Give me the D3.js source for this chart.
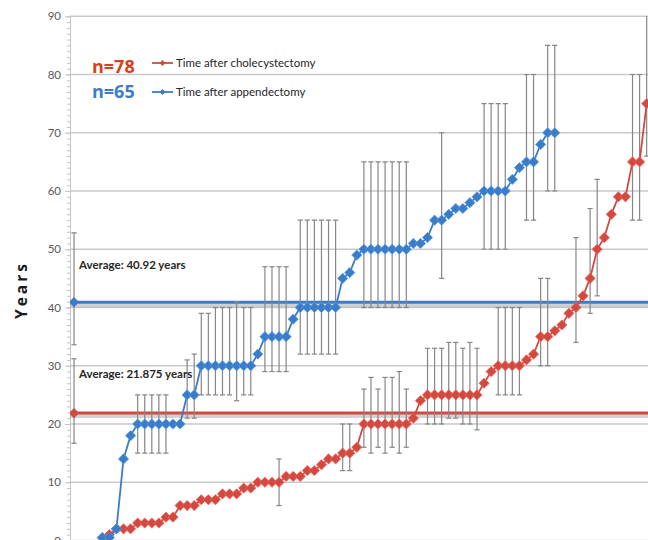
<!DOCTYPE html>
<html><head><meta charset="utf-8">
<script src="https://cdn.jsdelivr.net/npm/d3@7"></script>
<style>body{margin:0;background:#fff}svg{display:block}</style>
</head><body>
<svg id="chart" width="648" height="540"></svg>
<script>
// Category slots along the x axis (1-based); patients are sorted by years
const categories = d3.range(1, 83);
const yTicks = [0, 10, 20, 30, 40, 50, 60, 70, 80, 90];
const firstPatientCategory = 5;
const averageCategory = 1;

// Years after appendectomy, one value per patient (n=65)
const appendectomyYears = [0.5, 0.5, 2, 14, 18,
  20, 20, 20, 20, 20, 20, 20, 25, 25,
  30, 30, 30, 30, 30, 30, 30, 30, 32, 35, 35, 35, 35, 38,
  40, 40, 40, 40, 40, 40, 45, 46, 49,
  50, 50, 50, 50, 50, 50, 50, 51, 51, 52,
  55, 55, 56, 57, 57, 58, 59, 60, 60, 60, 60,
  62, 64, 65, 65, 68, 70, 70];

// Years after cholecystectomy, one value per patient (n=78)
const cholecystectomyYears = [0.5, 1, 2, 2, 2, 3, 3, 3, 3, 4, 4,
  6, 6, 6, 7, 7, 7, 8, 8, 8, 9, 9, 10, 10, 10, 10, 11, 11, 11,
  12, 12, 13, 14, 14, 15, 15, 16,
  20, 20, 20, 20, 20, 20, 20, 21, 24,
  25, 25, 25, 25, 25, 25, 25, 25, 27, 29, 30, 30, 30, 30, 31, 32,
  35, 35, 36, 37, 39, 40, 42, 45, 50, 52, 56, 59, 59, 65, 65, 75];

// Error bars: category, lower end, upper end
const appErrCategory = [10, 11, 12, 13, 14, 17, 18, 19, 20, 21, 22, 23, 24, 25, 26,
  28, 29, 30, 31, 33, 34, 35, 36, 37, 38, 42, 43, 44, 45, 46, 47, 48, 53,
  59, 60, 61, 62, 65, 66, 68, 69];
const appErrLow = [15, 15, 15, 15, 15, 21, 21, 25, 25, 25, 25, 25, 24, 25, 25,
  29, 29, 29, 29, 32, 32, 32, 32, 32, 32, 40, 40, 40, 40, 40, 40, 40, 45,
  50, 50, 50, 50, 55, 55, 60, 60];
const appErrHigh = [25, 25, 25, 25, 25, 31, 32, 39, 39, 40, 40, 40, 41, 40, 40,
  47, 47, 47, 47, 55, 55, 55, 55, 55, 55, 65, 65, 65, 65, 65, 65, 65, 70,
  75, 75, 75, 75, 80, 80, 85, 85];

const cholErrCategory = [30, 39, 40, 42, 43, 44, 45, 46, 47, 48,
  51, 52, 53, 54, 55, 56, 57, 58, 61, 62, 63, 64, 67, 68, 72, 74, 75, 80, 81, 82];
const cholErrLow = [6, 12, 12, 16, 15, 16, 15, 16, 15, 16,
  20, 20, 20, 21, 21, 20, 20, 19, 25, 25, 25, 25, 30, 30, 34, 39, 42, 55, 55, 66];
const cholErrHigh = [14, 20, 20, 26, 28, 26, 28, 28, 29, 26,
  33, 33, 33, 34, 34, 33, 34, 33, 40, 40, 40, 40, 45, 45, 52, 57, 62, 80, 80, 92];

// Group averages with their spread
const appAverage = 40.92, appAverageLow = 33.6, appAverageHigh = 52.8;
const cholAverage = 21.875, cholAverageLow = 16.7, cholAverageHigh = 31.2;

const legendLabels = ["Time after cholecystectomy", "Time after appendectomy"];
const countLabels = ["n=78", "n=65"];

const BLUE = "#3c7cc6", RED = "#cf4a41";
const svg = d3.select("#chart");

const x = d3.scaleBand().domain(categories).range([70.5, 650.2]).padding(0);
const cx = c => x(c) + x.bandwidth() / 2;
const y = d3.scaleLinear().domain([0, 90]).range([540.5, 16.25]);

svg.append("defs").append("clipPath").attr("id", "plot")
  .append("rect").attr("x", 70).attr("y", y(90)).attr("width", 580).attr("height", y(0) - y(90));

// horizontal gridlines
svg.append("g").selectAll("line").data(yTicks).join("line")
  .attr("x1", 70).attr("x2", 650)
  .attr("y1", d => y(d)).attr("y2", d => y(d))
  .attr("stroke", "#c9c9c9").attr("stroke-width", 1.3);

// y axis with minor ticks
const minor = svg.append("g").attr("transform", "translate(70,0)")
  .call(d3.axisLeft(y).ticks(90).tickSize(3).tickFormat(""));
minor.selectAll("path,line").attr("stroke", "#c4c4c4");
const major = svg.append("g").attr("transform", "translate(70,0)")
  .call(d3.axisLeft(y).tickValues(yTicks).tickSize(5).tickPadding(4));
major.select(".domain").remove();
major.selectAll("line").attr("stroke", "#c4c4c4");
major.selectAll("text").attr("fill", "#595959")
  .style("font-family", "Lato, 'Open Sans', sans-serif").style("font-size", "11.5px");

svg.append("text").text("Years")
  .attr("transform", "translate(27,290) rotate(-90)")
  .attr("text-anchor", "middle")
  .style("font-family", "'Open Sans', sans-serif").style("font-weight", "700")
  .style("font-size", "15.5px").style("letter-spacing", "3px").attr("fill", "#1a1a1a");

const plot = svg.append("g").attr("clip-path", "url(#plot)");

// average lines with soft shadow
function averageLine(value, color) {
  plot.append("line").attr("x1", 70).attr("x2", 650)
    .attr("y1", y(value) + 3).attr("y2", y(value) + 3)
    .attr("stroke", "#9a9a9a").attr("stroke-opacity", 0.45).attr("stroke-width", 4);
  plot.append("line").attr("x1", 70).attr("x2", 650)
    .attr("y1", y(value)).attr("y2", y(value))
    .attr("stroke", color).attr("stroke-width", 3);
}
averageLine(appAverage, BLUE);
averageLine(cholAverage, RED);

// error bars
function errorBars(cats, lows, highs) {
  const g = plot.append("g").attr("stroke", "#868686").attr("stroke-width", 1.2).attr("fill", "none");
  cats.forEach((c, i) => {
    const px = cx(c), y1 = y(lows[i]), y2 = y(highs[i]);
    g.append("line").attr("x1", px).attr("x2", px).attr("y1", y1).attr("y2", y2);
    g.append("line").attr("x1", px - 2.6).attr("x2", px + 2.6).attr("y1", y1).attr("y2", y1);
    g.append("line").attr("x1", px - 2.6).attr("x2", px + 2.6).attr("y1", y2).attr("y2", y2);
  });
}
errorBars(cholErrCategory, cholErrLow, cholErrHigh);
errorBars(appErrCategory, appErrLow, appErrHigh);
errorBars([averageCategory], [appAverageLow], [appAverageHigh]);
errorBars([averageCategory], [cholAverageLow], [cholAverageHigh]);

const diamond = d3.symbol().type(d3.symbolDiamond2).size(66);

function series(values, color) {
  const pts = values.map((v, i) => ({ c: firstPatientCategory + i, v }));
  plot.append("path").datum(pts)
    .attr("d", d3.line().x(d => cx(d.c)).y(d => y(d.v)))
    .attr("fill", "none").attr("stroke", color).attr("stroke-width", 1.8);
  plot.append("g").selectAll("path").data(pts).join("path")
    .attr("d", diamond)
    .attr("transform", d => `translate(${cx(d.c)},${y(d.v)})`)
    .attr("fill", color).attr("stroke", d3.color(color).brighter(0.6)).attr("stroke-width", 0.8);
}
series(cholecystectomyYears, RED);
series(appendectomyYears, BLUE);

// average markers
[[appAverage, BLUE], [cholAverage, RED]].forEach(([v, col]) => {
  plot.append("path").attr("d", diamond)
    .attr("transform", `translate(${cx(averageCategory)},${y(v)})`)
    .attr("fill", col);
});

// average labels
const labelFont = "Lato, 'Open Sans', sans-serif";
svg.append("text").text(`Average: ${appAverage} years`)
  .attr("x", 79).attr("y", 269)
  .style("font-family", labelFont).style("font-weight", "700").style("font-size", "11.5px")
  .attr("fill", "#262626");
svg.append("text").text(`Average: ${cholAverage} years`)
  .attr("x", 79).attr("y", 378)
  .style("font-family", labelFont).style("font-weight", "700").style("font-size", "11.5px")
  .attr("fill", "#262626");

// legend
const legendRows = [
  { n: countLabels[0], label: legendLabels[0], color: RED, countColor: "#d93f1f", y: 63, ny: 73 },
  { n: countLabels[1], label: legendLabels[1], color: BLUE, countColor: "#3d7cc9", y: 92, ny: 97.5 }
];
const lg = svg.append("g");
legendRows.forEach(r => {
  lg.append("text").text(r.n).attr("x", 92).attr("y", r.ny)
    .style("font-family", "'Open Sans', sans-serif").style("font-weight", "700")
    .style("font-size", "18px").attr("fill", r.countColor);
  lg.append("line").attr("x1", 152).attr("x2", 173).attr("y1", r.y).attr("y2", r.y)
    .attr("stroke", r.color).attr("stroke-width", 1.8);
  lg.append("path").attr("d", d3.symbol().type(d3.symbolDiamond2).size(22))
    .attr("transform", `translate(162.5,${r.y})`).attr("fill", r.color);
  lg.append("text").text(r.label).attr("x", 176).attr("y", r.y + 4)
    .style("font-family", labelFont).style("font-size", "11.5px").attr("fill", "#262626");
});
</script>
</body></html>
